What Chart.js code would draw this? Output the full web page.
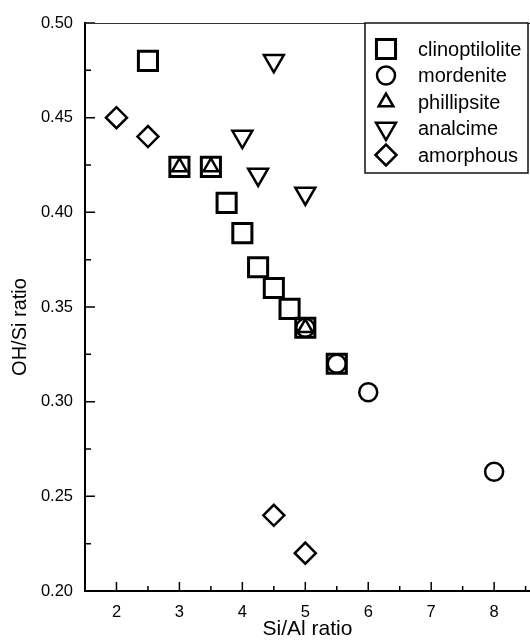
<!DOCTYPE html>
<html>
<head>
<meta charset="utf-8">
<script src="https://cdn.jsdelivr.net/npm/chart.js@4/dist/chart.umd.min.js"></script>
<style>
	html, body { margin: 0; background: #fff; overflow: hidden; }
	#wrap { width: 530px; height: 640px; }
</style>
</head>
<body>
<div id="wrap"><canvas id="chart" width="530" height="640"></canvas></div>
<script>
// OH/Si vs Si/Al ratio by zeolite phase
const seriesNames = ['clinoptilolite', 'mordenite', 'phillipsite', 'analcime', 'amorphous'];

const clinoX = [2.5, 3, 3.5, 3.75, 4, 4.25, 4.5, 4.75, 5, 5.5];
const clinoY = [0.48, 0.424, 0.424, 0.405, 0.389, 0.371, 0.36, 0.349, 0.339, 0.32];

const mordX = [5, 5.5, 6, 8];
const mordY = [0.339, 0.32, 0.305, 0.263];

const philX = [3, 3.5, 5];
const philY = [0.424, 0.424, 0.339];

const analX = [4, 4.25, 4.5, 5];
const analY = [0.44, 0.42, 0.48, 0.41];

const amorX = [2, 2.5, 4.5, 5];
const amorY = [0.45, 0.44, 0.24, 0.22];

const xTicks = [2, 3, 4, 5, 6, 7, 8];
const yTicks = [0.20, 0.25, 0.30, 0.35, 0.40, 0.45, 0.50];

const xTitle = 'Si/Al ratio';
const yTitle = 'OH/Si ratio';

const pts = (xs, ys) => xs.map((x, i) => ({ x, y: ys[i] }));

const markers = [
	{ style: 'rect', radius: 13.5, rotation: 0, width: 3 },
	{ style: 'circle', radius: 9, rotation: 0, width: 2.5 },
	{ style: 'triangle', radius: 8.5, rotation: 0, width: 2.5 },
	{ style: 'triangle', radius: 11.5, rotation: 180, width: 2.5 },
	{ style: 'rectRot', radius: 10.5, rotation: 0, width: 2.5 },
];

const seriesData = [pts(clinoX, clinoY), pts(mordX, mordY), pts(philX, philY), pts(analX, analY), pts(amorX, amorY)];

const datasets = seriesNames.map((label, i) => ({
	label,
	data: seriesData[i],
	pointStyle: markers[i].style,
	pointRadius: markers[i].radius,
	pointHoverRadius: markers[i].radius,
	pointRotation: markers[i].rotation,
	pointBorderWidth: markers[i].width,
	pointHoverBorderWidth: markers[i].width,
	pointBorderColor: '#000',
	pointBackgroundColor: 'rgba(0,0,0,0)',
	showLine: false,
}));

const FONT = 'Liberation Sans, Arial, Helvetica, sans-serif';

// inward major/minor ticks, the thin top frame line and the y title
// (the scan's y title sits a bit below the axis centre, so it's drawn by hand)
const frame = {
	id: 'frame',
	afterDatasetsDraw(chart) {
		const { ctx, chartArea: a, scales: { x, y } } = chart;
		ctx.save();
		ctx.strokeStyle = '#000';
		ctx.lineWidth = 1.5;
		ctx.beginPath();
		xTicks.forEach(v => {
			const px = x.getPixelForValue(v);
			ctx.moveTo(px, a.bottom); ctx.lineTo(px, a.bottom - 9);
			const m = x.getPixelForValue(v + 0.5);
			if (m < a.right) { ctx.moveTo(m, a.bottom); ctx.lineTo(m, a.bottom - 5); }
		});
		yTicks.forEach((v, i) => {
			const py = y.getPixelForValue(v);
			ctx.moveTo(a.left, py); ctx.lineTo(a.left + 10, py);
			if (i < yTicks.length - 1) {
				const m = y.getPixelForValue((v + yTicks[i + 1]) / 2);
				ctx.moveTo(a.left, m); ctx.lineTo(a.left + 6, m);
			}
		});
		ctx.stroke();
		ctx.lineWidth = 1;
		ctx.strokeStyle = '#333';
		ctx.beginPath();
		ctx.moveTo(a.left, a.top + 0.5); ctx.lineTo(a.right, a.top + 0.5);
		ctx.stroke();

		ctx.translate(20, (a.top + a.bottom) / 2 + 20);
		ctx.rotate(-Math.PI / 2);
		ctx.font = `20px ${FONT}`;
		ctx.fillStyle = '#000';
		ctx.textAlign = 'center';
		ctx.textBaseline = 'middle';
		ctx.fillText(yTitle, 0, 0);
		ctx.restore();
	},
};

// boxed legend tucked into the top-right corner of the plot
const boxLegend = {
	id: 'boxLegend',
	afterDraw(chart) {
		const { ctx, chartArea: a } = chart;
		const right = a.right - 2, top = a.top, w = 163, h = 150;
		const left = right - w;
		ctx.save();
		ctx.fillStyle = '#fff';
		ctx.fillRect(left, top, w, h);
		ctx.strokeStyle = '#111';
		ctx.lineWidth = 1.5;
		ctx.strokeRect(left, top, w, h);
		ctx.font = `20px ${FONT}`;
		ctx.textBaseline = 'middle';
		chart.data.datasets.forEach((ds, i) => {
			const cy = top + 26 + i * 26.5;
			ctx.strokeStyle = '#000';
			ctx.fillStyle = 'rgba(0,0,0,0)';
			ctx.lineWidth = ds.pointBorderWidth;
			Chart.helpers.drawPoint(ctx, {
				pointStyle: ds.pointStyle, rotation: ds.pointRotation,
				radius: ds.pointRadius, borderWidth: ds.pointBorderWidth,
			}, left + 21, cy);
			ctx.fillStyle = '#000';
			ctx.fillText(ds.label, left + 53, cy + 1);
		});
		ctx.restore();
	},
};

new Chart(document.getElementById('chart'), {
	type: 'scatter',
	data: { datasets },
	plugins: [frame, boxLegend],
	options: {
		responsive: false,
		animation: false,
		devicePixelRatio: 1,
		// autoPadding would reserve room for the big markers and pull the frame off the right edge
		layout: { autoPadding: false, padding: { top: 23, right: 0, bottom: 0, left: 0 } },
		scales: {
			x: {
				type: 'linear', min: 1.5, max: 8.57,
				afterBuildTicks: s => { s.ticks = xTicks.map(value => ({ value })); },
				afterFit: s => { s.height = 49; s.paddingLeft = 0; s.paddingRight = 0; },
				grid: { display: false, drawTicks: false },
				border: { display: true, color: '#000', width: 2 },
				ticks: { color: '#000', padding: 12, maxRotation: 0, autoSkip: false, font: { family: FONT, size: 16.5 }, callback: v => String(v) },
				title: { display: true, text: xTitle, color: '#000', font: { family: FONT, size: 21, lineHeight: 1 }, padding: { top: 0, bottom: 0 } },
			},
			y: {
				type: 'linear', min: 0.2, max: 0.5,
				afterBuildTicks: s => { s.ticks = yTicks.map(value => ({ value })); },
				afterFit: s => { s.width = 85; s.paddingTop = 0; s.paddingBottom = 0; },
				grid: { display: false, drawTicks: false },
				border: { display: true, color: '#000', width: 2 },
				ticks: { color: '#000', padding: 12, autoSkip: false, font: { family: FONT, size: 16.5 }, callback: v => v.toFixed(2) },
				title: { display: false },
			},
		},
		plugins: {
			legend: { display: false },
			tooltip: { enabled: false },
		},
	},
});
</script>
</body>
</html>
